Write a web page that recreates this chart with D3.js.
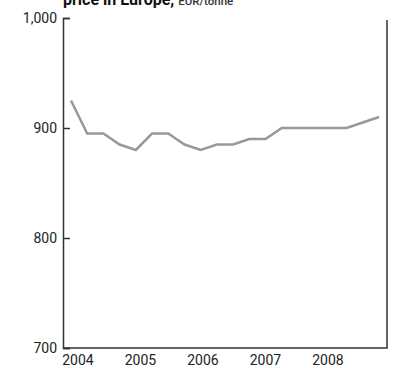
<!DOCTYPE html>
<html><head><meta charset="utf-8">
<script src="https://cdn.jsdelivr.net/npm/d3@7"></script>
<style>body{margin:0;background:#fff;} svg{display:block;}</style>
</head><body>
<svg id="c" width="395" height="368"></svg>
<script>
const quarters = ["2004Q1","2004Q2","2004Q3","2004Q4","2005Q1","2005Q2","2005Q3","2005Q4","2006Q1","2006Q2","2006Q3","2006Q4","2007Q1","2007Q2","2007Q3","2007Q4","2008Q1","2008Q2","2008Q3","2008Q4"];
const prices = [925,895,895,885,880,895,895,885,880,885,885,890,890,900,900,900,900,900,905,910];
const yearLabels = ["2004","2005","2006","2007","2008"];
const yTicks = [700,800,900,1000];
const titleBold = "price in Europe,";
const titleUnit = "EUR/tonne";

const svg = d3.select("#c");
const font = "Roboto, 'Liberation Sans', Arial, sans-serif";
const mLeft = 63, mRight = 387, mTop = 18, mBottom = 348;

const x = d3.scalePoint().domain(quarters).range([71, 379]);
const y = d3.scaleLinear().domain([700, 1000]).range([mBottom, mTop]);
const xl = d3.scalePoint().domain(yearLabels).range([78, 328]);

// title (clipped at top, as in the reference)
const t = svg.append("text").attr("x", mLeft).attr("y", 5).attr("font-family", font);
t.append("tspan").attr("font-weight", "bold").attr("font-size", 16).attr("fill", "#111").text(titleBold);
t.append("tspan").attr("font-size", 11.5).attr("font-weight", 500).attr("fill", "#333").attr("dx", 4).text(titleUnit);

// left axis
const ya = d3.axisLeft(y).tickValues(yTicks).tickSize(-7).tickPadding(6).tickFormat(d3.format(","));
const gy = svg.append("g").attr("transform", `translate(${mLeft},0)`).call(ya);
gy.select(".domain").attr("stroke", "#333").attr("stroke-width", 1.5);
gy.selectAll(".tick line").attr("stroke", "#333").attr("stroke-width", 1.5);
gy.selectAll(".tick text").attr("font-family", font).attr("font-size", 14).attr("fill", "#222");

// right line
svg.append("line").attr("x1", mRight).attr("x2", mRight).attr("y1", mTop + 2).attr("y2", mBottom)
  .attr("stroke", "#333").attr("stroke-width", 1.5);
// bottom line
svg.append("line").attr("x1", mLeft).attr("x2", mRight + 0.75).attr("y1", mBottom).attr("y2", mBottom)
  .attr("stroke", "#333").attr("stroke-width", 1.5);

// year labels
svg.append("g").selectAll("text").data(yearLabels).join("text")
  .attr("x", d => xl(d)).attr("y", 365).attr("text-anchor", "middle")
  .attr("font-family", font).attr("font-size", 14).attr("fill", "#222").text(d => d);

// line
const line = d3.line().x((d, i) => x(quarters[i])).y(d => y(d));
svg.append("path").datum(prices).attr("d", line).attr("fill", "none")
  .attr("stroke", "#999").attr("stroke-width", 2.5).attr("stroke-linejoin", "miter");
</script>
</body></html>
